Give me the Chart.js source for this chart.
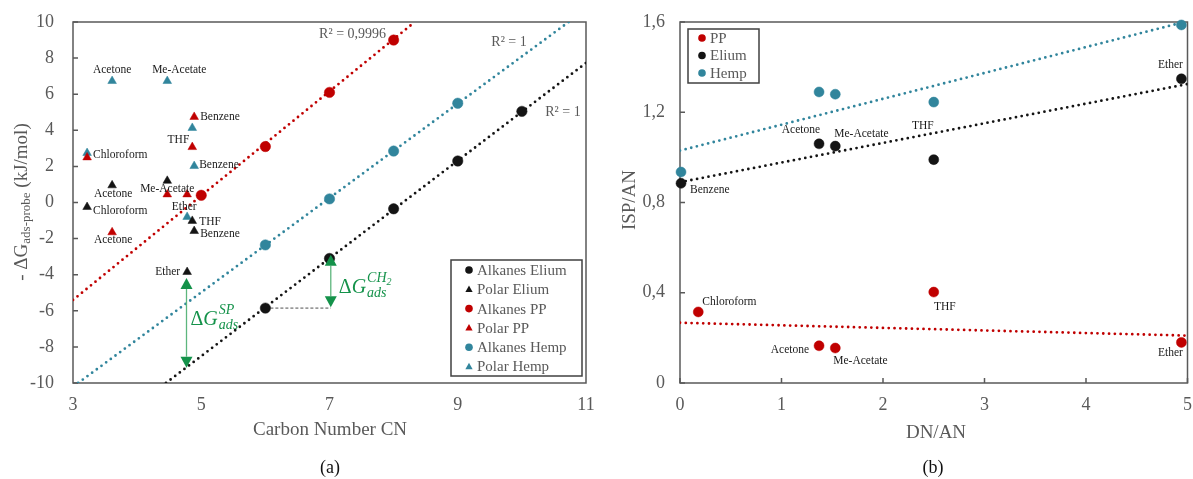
<!doctype html>
<html lang="en">
<head>
  <meta charset="utf-8">
  <title>IGC: adsorption energy and acid-base indices</title>
  <script src="https://cdn.jsdelivr.net/npm/chart.js"></script>
  <style>
    body { margin: 0; background: #fff; }
    #wrap { position: relative; width: 1193px; height: 479px; overflow: hidden; }
    canvas { position: absolute; top: 0; }
    #chartA { left: 0; }
    #chartB { left: 600px; }
  </style>
</head>
<body>
<div id="wrap">
  <canvas id="chartA" width="600" height="479"></canvas>
  <canvas id="chartB" width="593" height="479"></canvas>
</div>

<script>
  // ---- (a) -dG ads-probe vs carbon number ----
  const cnTicks = [3, 5, 7, 9, 11];
  const dgTicks = [-10, -8, -6, -4, -2, 0, 2, 4, 6, 8, 10];

  const alkaneCN_Elium = [6, 7, 8, 9, 10];
  const alkaneDG_Elium = [-5.85, -3.1, -0.35, 2.3, 5.05];
  const alkaneCN_PP = [5, 6, 7, 8];
  const alkaneDG_PP = [0.4, 3.1, 6.1, 9.0];
  const alkaneCN_Hemp = [6, 7, 8, 9];
  const alkaneDG_Hemp = [-2.35, 0.2, 2.85, 5.5];

  const polarProbes = ['Chloroform', 'Acetone', 'Me-Acetate', 'Ether', 'THF', 'Benzene'];
  const polarCN = [3.22, 3.61, 4.47, 4.78, 4.86, 4.89];
  const polarDG_Elium = [-0.25, 0.95, 1.2, -3.85, -1.02, -1.58];
  const polarDG_PP = [2.5, -1.65, 0.45, 0.45, 3.07, 4.74];
  const polarDG_Hemp = [2.74, 6.73, 6.73, -0.8, 4.13, 2.02];

  // fitted lines, end points
  const fitCN_Elium = [4.45, 11];
  const fitDG_Elium = [-10, 7.73];
  const fitCN_PP = [3, 8.33];
  const fitDG_PP = [-5.4, 10];
  const fitCN_Hemp = [3.08, 10.73];
  const fitDG_Hemp = [-10, 10];
  const r2Texts = ['R² = 0,9996', 'R² = 1', 'R² = 1'];
  const r2CN = [7.36, 9.8, 10.64];
  const r2DG = [9.3, 8.85, 5.0];

  // ---- (b) ISP/AN vs DN/AN ----
  const dnTicks = [0, 1, 2, 3, 4, 5];
  const ispTicks = [0, 0.4, 0.8, 1.2, 1.6];
  const probesB = ['Benzene', 'Chloroform', 'Acetone', 'Me-Acetate', 'THF', 'Ether'];
  const dnAn = [0.01, 0.18, 1.37, 1.53, 2.5, 4.94];
  const ispAn_PP = [null, 0.315, 0.165, 0.155, 0.403, 0.18];
  const ispAn_Elium = [0.885, null, 1.06, 1.05, 0.99, 1.348];
  const ispAn_Hemp = [0.935, null, 1.29, 1.28, 1.245, 1.587];
  const fitDN = [0, 5];
  const fitISP_PP = [0.267, 0.21];
  const fitISP_Elium = [0.89, 1.325];
  const fitDN_Hemp = [0, 4.97];
  const fitISP_Hemp = [1.03, 1.6];

  const RED = '#C00000', BLACK = '#141414', TEAL = '#31859C', GREEN = '#14924A', GREY = '#595959';
  const SERIF = '"Liberation Serif", "Times New Roman", serif';

  // label offsets (px) next to the markers: [dx, dy, align]
  const spotsElium = {
    'Chloroform': [6, 4, 'left'], 'Acetone': [1, 9, 'center'], 'Me-Acetate': [0, 8, 'center'],
    'Ether': [-7, 0, 'right'], 'THF': [7, 1, 'left'], 'Benzene': [6, 3, 'left']
  };
  const spotsPP = { 'Acetone': [1, 8, 'center'], 'THF': [-3, -7, 'right'], 'Benzene': [6, 0, 'left'] };
  const spotsHemp = {
    'Chloroform': [6, 2, 'left'], 'Acetone': [0, -11, 'center'], 'Me-Acetate': [12, -11, 'center'],
    'Ether': [-3, -10, 'center'], 'Benzene': [5, -1, 'left']
  };
  const spotsB_PP = {
    'Chloroform': [4, -10, 'left'], 'Acetone': [-10, 4, 'right'], 'Me-Acetate': [-2, 13, 'left'],
    'THF': [11, 15, 'center'], 'Ether': [-11, 11, 'center']
  };
  const spotsB_Elium = {
    'Benzene': [9, 7, 'left'], 'Acetone': [1, -14, 'right'], 'Me-Acetate': [-1, -12, 'left'],
    'THF': [-11, -34, 'center'], 'Ether': [-11, -14, 'center']
  };

  function pts(xs, ys, names) {
    return xs.map((x, i) => ({ x, y: ys[i], name: names ? names[i] : '' })).filter(p => p.y !== null);
  }
  function dots(label, xs, ys, color, style, names, spots, r) {
    return {
      label, data: pts(xs, ys, names), pointStyle: style, pointRadius: r,
      backgroundColor: color, borderColor: color, pointBorderWidth: 0.5,
      showLine: false, clip: 8, order: 1, spots
    };
  }
  function fit(xs, ys, color) {
    return {
      label: '', data: pts(xs, ys), borderColor: color, borderWidth: 2.8, borderDash: [0, 5.8],
      borderCapStyle: 'round', showLine: true, pointRadius: 0, order: 2, isFit: true
    };
  }

  function scale(min, max, tickList, size, pad, fmt) {
    return {
      type: 'linear', min, max,
      afterBuildTicks: s => { s.ticks = tickList.map(v => ({ value: v })); },
      afterFit: s => {
        if (s.isHorizontal()) { s.height = size; s.paddingLeft = 0; s.paddingRight = 0; }
        else { s.width = size; s.paddingTop = 0; s.paddingBottom = 0; }
      },
      grid: { display: false, drawTicks: false },
      border: { display: false },
      ticks: {
        color: GREY, font: { family: SERIF, size: 18 }, padding: pad, autoSkip: false, maxRotation: 0,
        callback: fmt || (v => String(v))
      }
    };
  }

  // ---- drawing helpers ----
  function frame(chart, xMarks) {
    const { ctx, chartArea: a, scales } = chart;
    ctx.save();
    ctx.strokeStyle = GREY;
    ctx.lineWidth = 1.5;
    ctx.strokeRect(a.left, a.top, a.right - a.left, a.bottom - a.top);
    ctx.beginPath();
    scales.y.ticks.forEach(t => {
      const y = scales.y.getPixelForValue(t.value);
      ctx.moveTo(a.left, y); ctx.lineTo(a.left + 5, y);
    });
    if (xMarks) scales.x.ticks.forEach(t => {
      const x = scales.x.getPixelForValue(t.value);
      ctx.moveTo(x, a.bottom); ctx.lineTo(x, a.bottom - 5);
    });
    ctx.stroke();
    ctx.restore();
  }

  function drawNames(chart) {
    const ctx = chart.ctx;
    ctx.save();
    ctx.font = `11.5px ${SERIF}`;
    ctx.fillStyle = '#1a1a1a';
    ctx.textBaseline = 'middle';
    chart.data.datasets.forEach((ds, i) => {
      if (!ds.spots) return;
      const meta = chart.getDatasetMeta(i);
      ds.data.forEach((p, j) => {
        const s = ds.spots[p.name];
        if (!s) return;
        const el = meta.data[j];
        ctx.textAlign = s[2];
        ctx.fillText(p.name, el.x + s[0], el.y + s[1]);
      });
    });
    ctx.restore();
  }

  function marker(ctx, style, x, y, r, color) {
    ctx.fillStyle = color;
    ctx.beginPath();
    if (style === 'triangle') {
      ctx.moveTo(x, y - r); ctx.lineTo(x + r * 0.95, y + r * 0.7); ctx.lineTo(x - r * 0.95, y + r * 0.7);
      ctx.closePath();
    } else {
      ctx.arc(x, y, r, 0, Math.PI * 2);
    }
    ctx.fill();
  }

  function drawLegend(chart, box) {
    const ctx = chart.ctx;
    const sets = chart.data.datasets.filter(d => !d.isFit);
    ctx.save();
    ctx.fillStyle = '#fff';
    ctx.fillRect(box.x, box.y, box.w, box.h);
    ctx.strokeStyle = '#404040';
    ctx.lineWidth = 1.5;
    ctx.strokeRect(box.x, box.y, box.w, box.h);
    ctx.font = `15px ${SERIF}`;
    ctx.textBaseline = 'middle';
    ctx.textAlign = 'left';
    sets.forEach((d, i) => {
      const y = box.y + box.first + i * box.row;
      marker(ctx, d.pointStyle, box.x + box.mx, y, 3.8, d.backgroundColor);
      ctx.fillStyle = GREY;
      ctx.fillText(d.label, box.x + box.tx, y + 1);
    });
    ctx.restore();
  }

  function text(ctx, str, x, y, font, color, rot) {
    ctx.save();
    ctx.translate(x, y);
    if (rot) ctx.rotate(rot);
    ctx.font = font;
    ctx.fillStyle = color;
    ctx.textAlign = 'center';
    ctx.textBaseline = 'middle';
    ctx.fillText(str, 0, 0);
    ctx.restore();
  }

  function arrow(chart, a) {
    const { ctx, scales } = chart;
    const x = scales.x.getPixelForValue(a.x);
    const y1 = scales.y.getPixelForValue(a.top);
    const y2 = scales.y.getPixelForValue(a.bottom);
    const h = 11, w = 6;
    ctx.save();
    ctx.strokeStyle = '#5DB67D';
    ctx.lineWidth = 1.3;
    ctx.beginPath(); ctx.moveTo(x, y1 + h); ctx.lineTo(x, y2 - h); ctx.stroke();
    ctx.fillStyle = GREEN;
    ctx.beginPath(); ctx.moveTo(x, y1); ctx.lineTo(x - w, y1 + h); ctx.lineTo(x + w, y1 + h); ctx.fill();
    ctx.beginPath(); ctx.moveTo(x, y2); ctx.lineTo(x - w, y2 - h); ctx.lineTo(x + w, y2 - h); ctx.fill();
    // Delta G label with super/subscripts
    let tx = x + a.dx;
    const by = scales.y.getPixelForValue(a.labelY);
    ctx.textAlign = 'left';
    ctx.textBaseline = 'alphabetic';
    ctx.font = `20px ${SERIF}`;
    ctx.fillText('Δ', tx, by); tx += ctx.measureText('Δ').width;
    ctx.font = `italic 20px ${SERIF}`;
    ctx.fillText('G', tx, by); tx += ctx.measureText('G').width + 1;
    ctx.font = `italic 14px ${SERIF}`;
    ctx.fillText('ads', tx, by + 4);
    ctx.fillText(a.sup, tx, by - 11);
    if (a.supSub) {
      const sw = ctx.measureText(a.sup).width;
      ctx.font = `italic 10px ${SERIF}`;
      ctx.fillText(a.supSub, tx + sw, by - 8);
    }
    ctx.restore();
  }

  const spArrow = { x: 4.77, top: -4.18, bottom: -9.15, labelY: -6.79, dx: 4, sup: 'SP' };
  const ch2Arrow = { x: 7.02, top: -2.9, bottom: -5.8, labelY: -5.01, dx: 8, sup: 'CH', supSub: '2' };

  const panelA = {
    id: 'panelA',
    beforeDatasetsDraw(chart) {
      frame(chart, false);
      const { ctx, scales } = chart;
      // dashed step between CN 6 and 7
      ctx.save();
      ctx.strokeStyle = '#222';
      ctx.lineWidth = 0.8;
      ctx.setLineDash([3, 2]);
      ctx.beginPath();
      ctx.moveTo(scales.x.getPixelForValue(6), scales.y.getPixelForValue(-5.85));
      ctx.lineTo(scales.x.getPixelForValue(ch2Arrow.x), scales.y.getPixelForValue(-5.85));
      ctx.stroke();
      ctx.restore();
    },
    afterDraw(chart) {
      const { ctx, scales } = chart;
      drawNames(chart);
      arrow(chart, spArrow);
      arrow(chart, ch2Arrow);
      r2Texts.forEach((t, i) => text(ctx, t, scales.x.getPixelForValue(r2CN[i]),
        scales.y.getPixelForValue(r2DG[i]), `14px ${SERIF}`, GREY));
      drawLegend(chart, { x: 451, y: 260, w: 131, h: 116, first: 10, row: 19.3, mx: 18, tx: 26 });
      text(ctx, 'Carbon Number CN', 330, 430, `19px ${SERIF}`, GREY);
      text(ctx, '(a)', 330, 468, `18px ${SERIF}`, '#111');
      // y title with subscript
      ctx.save();
      ctx.translate(22, 202);
      ctx.rotate(-Math.PI / 2);
      ctx.fillStyle = GREY;
      ctx.textBaseline = 'middle';
      ctx.textAlign = 'left';
      const parts = [['- ΔG', 19, 0], ['ads-probe', 13, 5], [' (kJ/mol)', 19, 0]];
      let total = 0;
      parts.forEach(p => { ctx.font = `${p[1]}px ${SERIF}`; total += ctx.measureText(p[0]).width; });
      let px = -total / 2;
      parts.forEach(p => {
        ctx.font = `${p[1]}px ${SERIF}`;
        ctx.fillText(p[0], px, p[2]);
        px += ctx.measureText(p[0]).width;
      });
      ctx.restore();
    }
  };

  const panelB = {
    id: 'panelB',
    beforeDatasetsDraw(chart) { frame(chart, true); },
    afterDraw(chart) {
      const ctx = chart.ctx;
      drawNames(chart);
      drawLegend(chart, { x: 88, y: 29, w: 71, h: 54, first: 9, row: 17.5, mx: 14, tx: 22 });
      text(ctx, 'DN/AN', 336, 433, `19px ${SERIF}`, GREY);
      text(ctx, 'ISP/AN', 30, 200, `19px ${SERIF}`, GREY, -Math.PI / 2);
      text(ctx, '(b)', 333, 468, `18px ${SERIF}`, '#111');
    }
  };

  new Chart(document.getElementById('chartA'), {
    type: 'scatter',
    data: {
      datasets: [
        dots('Alkanes Elium', alkaneCN_Elium, alkaneDG_Elium, BLACK, 'circle', null, null, 5.2),
        dots('Polar Elium', polarCN, polarDG_Elium, BLACK, 'triangle', polarProbes, spotsElium, 5),
        dots('Alkanes PP', alkaneCN_PP, alkaneDG_PP, RED, 'circle', null, null, 5.2),
        dots('Polar PP', polarCN, polarDG_PP, RED, 'triangle', polarProbes, spotsPP, 5),
        dots('Alkanes Hemp', alkaneCN_Hemp, alkaneDG_Hemp, TEAL, 'circle', null, null, 5.2),
        dots('Polar Hemp', polarCN, polarDG_Hemp, TEAL, 'triangle', polarProbes, spotsHemp, 5),
        fit(fitCN_Elium, fitDG_Elium, BLACK),
        fit(fitCN_PP, fitDG_PP, RED),
        fit(fitCN_Hemp, fitDG_Hemp, TEAL)
      ]
    },
    options: {
      responsive: false,
      animation: false,
      events: [],
      layout: { padding: { left: 0, right: 14, top: 22, bottom: 0 } },
      plugins: { legend: { display: false }, tooltip: { enabled: false } },
      scales: {
        x: scale(3, 11, cnTicks, 96, 11),
        y: scale(-10, 10, dgTicks, 73, 19)
      }
    },
    plugins: [panelA]
  });

  new Chart(document.getElementById('chartB'), {
    type: 'scatter',
    data: {
      datasets: [
        dots('PP', dnAn, ispAn_PP, RED, 'circle', probesB, spotsB_PP, 5),
        dots('Elium', dnAn, ispAn_Elium, BLACK, 'circle', probesB, spotsB_Elium, 5),
        dots('Hemp', dnAn, ispAn_Hemp, TEAL, 'circle', probesB, null, 5),
        fit(fitDN, fitISP_PP, RED),
        fit(fitDN, fitISP_Elium, BLACK),
        fit(fitDN_Hemp, fitISP_Hemp, TEAL)
      ]
    },
    options: {
      responsive: false,
      animation: false,
      events: [],
      layout: { padding: { left: 0, right: 1, top: 22, bottom: 0 } },
      plugins: { legend: { display: false }, tooltip: { enabled: false } },
      scales: {
        x: scale(0, 5, dnTicks, 96, 11),
        y: scale(0, 1.6, ispTicks, 80, 15, v => v === 0 ? '0' : v.toFixed(1).replace('.', ','))
      }
    },
    plugins: [panelB]
  });
</script>
</body>
</html>
